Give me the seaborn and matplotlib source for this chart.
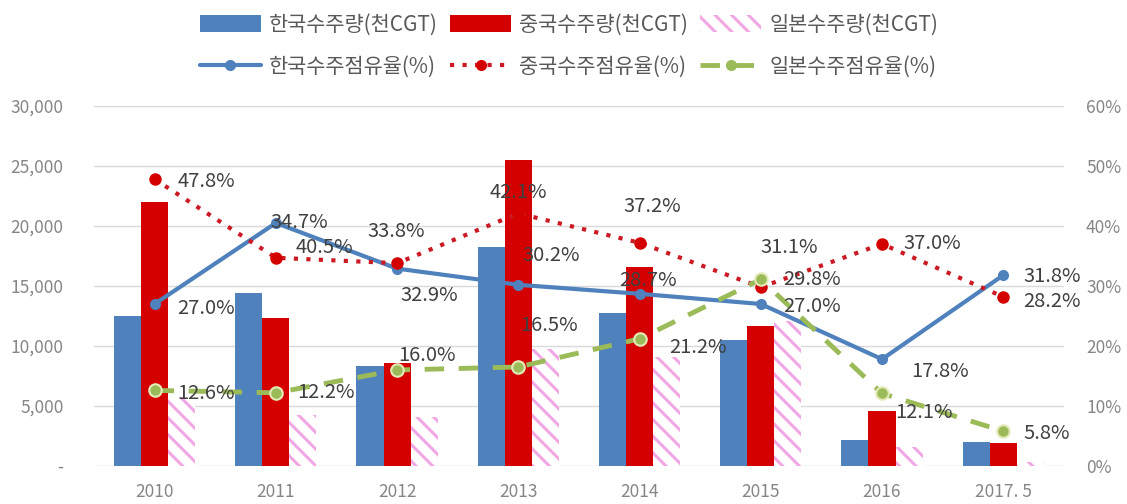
import numpy as np
import pandas as pd
import matplotlib
matplotlib.use("Agg")
import matplotlib.pyplot as plt
import seaborn as sns
from matplotlib.patches import Patch
from matplotlib.lines import Line2D

# 연도
years = ['2010', '2011', '2012', '2013', '2014', '2015', '2016', '2017. 5']

# 수주량 (천CGT)
korea_ton = [12500, 14400, 8300, 18250, 12750, 10500, 2150, 2000]
china_ton = [22000, 12300, 8600, 25500, 16600, 11650, 4600, 1900]
japan_ton = [5750, 4250, 4100, 9750, 9100, 12100, 1600, 350]

# 수주점유율 (%)
korea_pct = [27.0, 40.5, 32.9, 30.2, 28.7, 27.0, 17.8, 31.8]
china_pct = [47.8, 34.7, 33.8, 42.1, 37.2, 29.8, 37.0, 28.2]
japan_pct = [12.6, 12.2, 16.0, 16.5, 21.2, 31.1, 12.1, 5.8]

# 데이터 레이블 (원본 그림 그대로)
korea_lbl = ['27.0%', '34.7%', '32.9%', '30.2%', '28.7%', '27.0%', '17.8%', '31.8%']
china_lbl = ['47.8%', '40.5%', '33.8%', '42.1%', '37.2%', '29.8%', '37.0%', '28.2%']
japan_lbl = ['12.6%', '12.2%', '16.0%', '16.5%', '21.2%', '31.1%', '12.1%', '5.8%']

bar_names = ['한국수주량(천CGT)', '중국수주량(천CGT)', '일본수주량(천CGT)']
line_names = ['한국수주점유율(%)', '중국수주점유율(%)', '일본수주점유율(%)']

c_blue = '#4F81BD'
c_red = '#D40000'
c_pink = '#F2A7E4'
c_green = '#9BBB59'
c_dot = '#CC1A24'

sns.set_theme(style="white")
plt.rcParams['font.family'] = ['Noto Sans CJK KR', 'DejaVu Sans']
plt.rcParams['hatch.linewidth'] = 2.2

df = pd.DataFrame({
    'year': years * 3,
    'series': [bar_names[0]] * 8 + [bar_names[1]] * 8 + [bar_names[2]] * 8,
    'value': korea_ton + china_ton + japan_ton,
})

fig = plt.figure(figsize=(11.27, 5.04), dpi=100)
ax = fig.add_axes([0.0834, 0.0754, 0.8606, 0.7143])

sns.barplot(data=df, x='year', y='value', hue='series', palette=[c_blue, c_red, 'white'],
            width=0.67, gap=0, saturation=1, legend=False, ax=ax)
for bar in ax.containers[2]:
    bar.set_hatch('\\\\')
    bar.set_edgecolor(c_pink)
    bar.set_linewidth(0)
for cont in ax.containers[:2]:
    for bar in cont:
        bar.set_linewidth(0)

ax.set_xlim(-0.5, 7.5)
ax.set_ylim(0, 30000)
ax.set_yticks(np.arange(0, 30001, 5000))
ax.set_yticklabels(['-' if v == 0 else f'{v:,}' for v in range(0, 30001, 5000)])
ax.yaxis.grid(True, color='#D9D9D9', lw=1)
ax.set_axisbelow(True)
ax.set_xlabel('')
ax.set_ylabel('')
ax.tick_params(axis='both', length=0, colors='#868686', labelsize=12.5)
ax.tick_params(axis='y', pad=22)
ax.tick_params(axis='x', pad=12)
for s in ax.spines.values():
    s.set_visible(False)

ax2 = ax.twinx()
xpos = np.arange(len(years))
sns.lineplot(x=xpos, y=korea_pct, ax=ax2, color=c_blue, lw=3, marker='o', markersize=8,
             markeredgewidth=0)
sns.lineplot(x=xpos, y=china_pct, ax=ax2, color=c_dot, lw=3, linestyle=(0, (1, 2)),
             marker='o', markersize=9, markeredgewidth=0, markerfacecolor=c_red)
sns.lineplot(x=xpos, y=japan_pct, ax=ax2, color=c_green, lw=3.5, linestyle=(0, (4, 3)),
             marker='o', markersize=9, markeredgewidth=1.5, markeredgecolor='#E4EBB8')
ax2.set_ylim(0, 60)
ax2.set_yticks(np.arange(0, 61, 10))
ax2.set_yticklabels([f'{v}%' for v in range(0, 61, 10)])
ax2.tick_params(axis='y', length=0, colors='#868686', labelsize=12.5, pad=16)
for s in ax2.spines.values():
    s.set_visible(False)
ax2.set_xlim(-0.5, 7.5)

# 레이블 위치 (픽셀 오프셋: 오른쪽, 위)
korea_off = [(23, -5), (-5, 0), (3, -27), (4, 29), (-20, 13), (22, -3), (29, -12), (20, -1)]
china_off = [(23, -2), (20, 10), (-30, 32), (-29, 21), (-16, 36), (22, 8), (21, 0), (20, -5)]
japan_off = [(23, -3), (21, 0), (1, 14), (2, 41), (30, -9), (0, 32), (13, -19), (20, -2)]

for vals, lbls, offs in [(korea_pct, korea_lbl, korea_off),
                         (china_pct, china_lbl, china_off),
                         (japan_pct, japan_lbl, japan_off)]:
    for i, (v, t, o) in enumerate(zip(vals, lbls, offs)):
        ax2.annotate(t, (i, v), xytext=o, textcoords='offset pixels', ha='left', va='center',
                     fontsize=14.5, color='#404040')

handles = [
    Patch(facecolor=c_blue, edgecolor='none'),
    Line2D([], [], color=c_blue, lw=3, marker='o', markersize=7),
    Patch(facecolor=c_red, edgecolor='none'),
    Line2D([], [], color=c_dot, lw=3, linestyle=(0, (1, 2)), marker='o', markersize=8,
           markerfacecolor=c_red, markeredgewidth=0),
    Patch(facecolor='white', edgecolor=c_pink, hatch='\\\\', lw=0),
    Line2D([], [], color=c_green, lw=3.5, linestyle=(0, (4, 3)), marker='o', markersize=8,
           markeredgewidth=0),
]
labels = [bar_names[0], line_names[0], bar_names[1], line_names[1], bar_names[2], line_names[2]]
leg = fig.legend(handles, labels, ncol=3, loc='upper center', bbox_to_anchor=(0.505, 1.01),
                 frameon=False, fontsize=15, handlelength=2.9, handleheight=0.9,
                 handletextpad=0.4, columnspacing=0.6, labelspacing=0.95)
for t in leg.get_texts():
    t.set_color('#595959')

fig.savefig('out.png', dpi=100)
